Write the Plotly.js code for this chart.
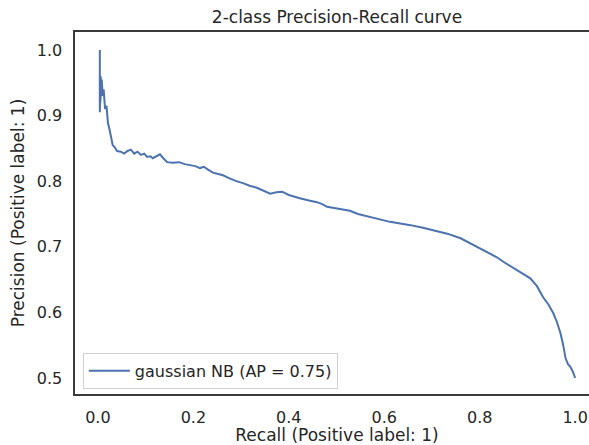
<!DOCTYPE html>
<html>
<head>
<meta charset="utf-8">
<script src="https://cdn.plot.ly/plotly-3.0.1.min.js"></script>
<style>
html,body{margin:0;padding:0;overflow:hidden;background:#fff;width:589px;height:445px;}
#chart{width:600px;height:445px;}
</style>
</head>
<body>
<div id="chart"></div>
<script>
const recall = [0.004, 0.004, 0.006, 0.005, 0.008, 0.010, 0.012, 0.015, 0.018, 0.021, 0.024, 0.027, 0.031, 0.035, 0.040, 0.048, 0.055, 0.062, 0.069, 0.076, 0.083, 0.090, 0.097, 0.103, 0.110, 0.115, 0.122, 0.130, 0.137, 0.145, 0.157, 0.170, 0.182, 0.193, 0.204, 0.214, 0.222, 0.230, 0.241, 0.252, 0.262, 0.277, 0.290, 0.304, 0.318, 0.333, 0.347, 0.361, 0.374, 0.386, 0.400, 0.412, 0.423, 0.440, 0.459, 0.470, 0.480, 0.495, 0.510, 0.528, 0.545, 0.560, 0.577, 0.595, 0.612, 0.633, 0.655, 0.681, 0.705, 0.732, 0.760, 0.794, 0.815, 0.836, 0.852, 0.870, 0.888, 0.906, 0.920, 0.933, 0.944, 0.954, 0.962, 0.969, 0.975, 0.980, 0.985, 0.990, 0.995, 1.000];
const precision = [1.0, 0.905, 0.96, 0.92, 0.955, 0.93, 0.94, 0.91, 0.915, 0.889, 0.88, 0.867, 0.855, 0.852, 0.846, 0.845, 0.842, 0.846, 0.848, 0.842, 0.845, 0.840, 0.842, 0.837, 0.838, 0.835, 0.838, 0.841, 0.835, 0.829, 0.828, 0.829, 0.826, 0.825, 0.823, 0.820, 0.822, 0.818, 0.813, 0.811, 0.809, 0.804, 0.800, 0.797, 0.793, 0.790, 0.786, 0.781, 0.783, 0.784, 0.779, 0.776, 0.774, 0.771, 0.768, 0.765, 0.761, 0.759, 0.757, 0.755, 0.750, 0.747, 0.744, 0.741, 0.738, 0.736, 0.733, 0.729, 0.725, 0.720, 0.713, 0.700, 0.693, 0.684, 0.676, 0.668, 0.660, 0.652, 0.640, 0.623, 0.612, 0.599, 0.585, 0.569, 0.550, 0.530, 0.521, 0.517, 0.510, 0.500];
const seriesName = "gaussian NB (AP = 0.75)";
const xTicks = [0.0, 0.2, 0.4, 0.6, 0.8, 1.0];
const yTicks = [0.5, 0.6, 0.7, 0.8, 0.9, 1.0];

const font = "DejaVu Sans, sans-serif";
const textColor = "#262626";

const trace = {
  x: recall, y: precision, type: "scatter", mode: "lines",
  name: seriesName,
  line: {color: "#4C72B0", width: 2},
  hoverinfo: "skip"
};

const axisCommon = {
  showgrid: false, zeroline: false,
  showline: true, mirror: true, linecolor: "#3a3a3a", linewidth: 1.6,
  ticks: "outside", ticklen: 8, tickcolor: "rgba(0,0,0,0)",
  tickfont: {family: font, size: 16, color: textColor},
  tickformat: ".1f"
};

const layout = {
  width: 600, height: 445,
  margin: {l: 75, r: 1, t: 32, b: 51},
  paper_bgcolor: "#fff", plot_bgcolor: "#fff",
  font: {family: font, color: textColor},
  title: {text: "2-class Precision-Recall curve", font: {family: font, size: 17, color: textColor},
          x: 337/600, xanchor: "center", y: 1 - 17/445, yanchor: "middle"},
  xaxis: Object.assign({}, axisCommon, {
    range: [-0.048, 1.05], tickvals: xTicks,
    title: {text: "Recall (Positive label: 1)", font: {family: font, size: 17, color: textColor}, standoff: 6}
  }),
  yaxis: Object.assign({}, axisCommon, {
    range: [0.4756, 1.0274], tickvals: yTicks,
    title: {text: "Precision (Positive label: 1)", font: {family: font, size: 17, color: textColor}, standoff: 8}
  }),
  showlegend: true,
  legend: {
    x: 0.015, y: 0.014, xanchor: "left", yanchor: "bottom",
    itemwidth: 41,
    bgcolor: "rgba(255,255,255,0.8)", bordercolor: "#d0d0d0", borderwidth: 1,
    font: {family: font, size: 16, color: textColor}
  }
};

Plotly.newPlot("chart", [trace], layout, {displayModeBar: false, staticPlot: true});
</script>
</body>
</html>
